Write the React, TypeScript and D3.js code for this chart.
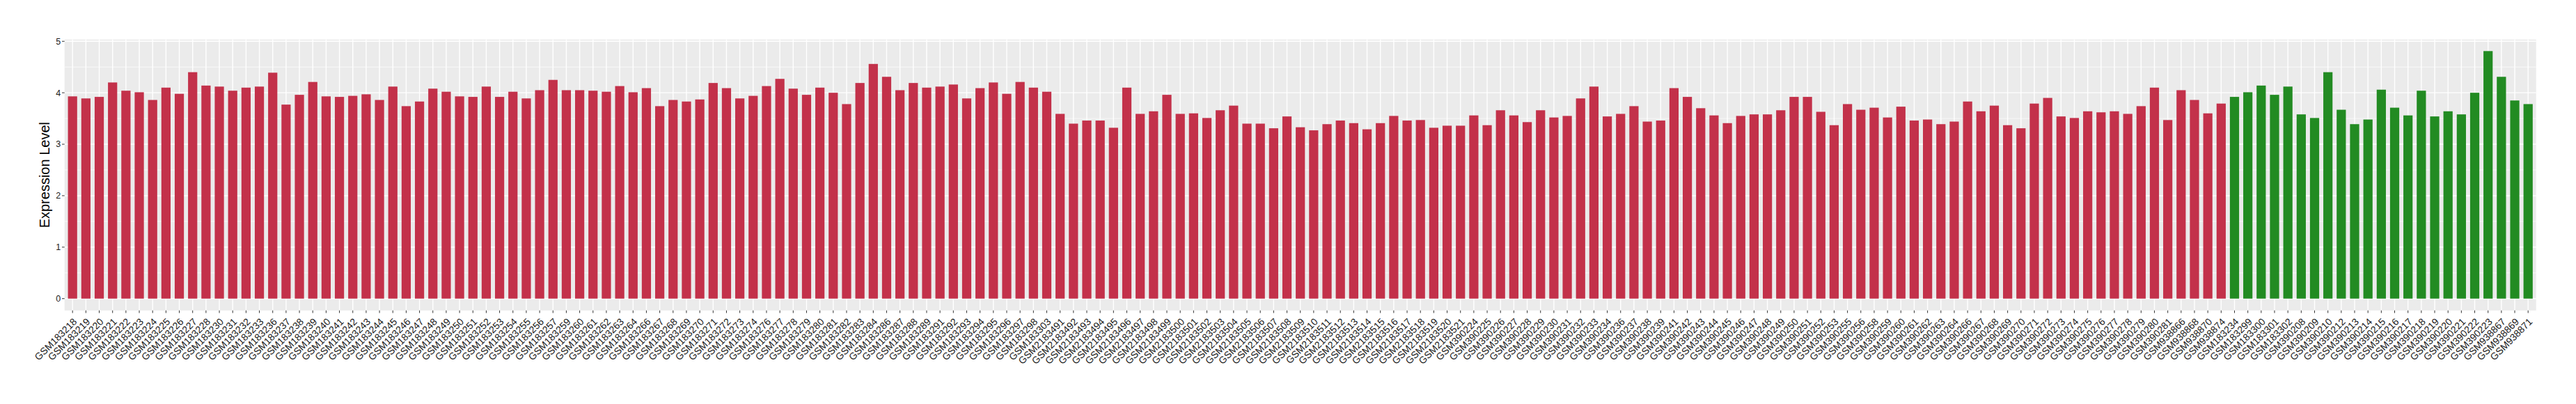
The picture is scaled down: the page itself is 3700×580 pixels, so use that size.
import React from "react";
import * as d3 from "d3";

// ---- data ----
const caseSamples = [
  "GSM183218","GSM183219","GSM183220","GSM183221","GSM183222","GSM183223","GSM183224","GSM183225","GSM183226","GSM183227","GSM183228",
  "GSM183230","GSM183231","GSM183232","GSM183233","GSM183236","GSM183237","GSM183238","GSM183239","GSM183240","GSM183241","GSM183242",
  "GSM183243","GSM183244","GSM183245","GSM183246","GSM183247","GSM183248","GSM183249","GSM183250","GSM183251","GSM183252","GSM183253",
  "GSM183254","GSM183255","GSM183256","GSM183257","GSM183259","GSM183260","GSM183261","GSM183262","GSM183263","GSM183264","GSM183266",
  "GSM183267","GSM183268","GSM183269","GSM183270","GSM183271","GSM183272","GSM183273","GSM183274","GSM183276","GSM183277","GSM183278",
  "GSM183279","GSM183280","GSM183281","GSM183282","GSM183283","GSM183284","GSM183286","GSM183287","GSM183288","GSM183289","GSM183291",
  "GSM183292","GSM183293","GSM183294","GSM183295","GSM183296","GSM183297","GSM183298","GSM183303",
  "GSM2183491","GSM2183492","GSM2183493","GSM2183494","GSM2183495","GSM2183496","GSM2183497","GSM2183498","GSM2183499","GSM2183500",
  "GSM2183501","GSM2183502","GSM2183503","GSM2183504","GSM2183505","GSM2183506","GSM2183507","GSM2183508","GSM2183509","GSM2183510",
  "GSM2183511","GSM2183512","GSM2183513","GSM2183514","GSM2183515","GSM2183516","GSM2183517","GSM2183518","GSM2183519","GSM2183520",
  "GSM2183521",
  "GSM390224","GSM390225","GSM390226","GSM390227","GSM390228","GSM390229","GSM390230","GSM390231","GSM390232","GSM390233","GSM390234",
  "GSM390236","GSM390237","GSM390238","GSM390239","GSM390241","GSM390242","GSM390243","GSM390244","GSM390245","GSM390246","GSM390247",
  "GSM390248","GSM390249","GSM390250","GSM390251","GSM390252","GSM390253","GSM390255","GSM390256","GSM390258","GSM390259","GSM390260",
  "GSM390261","GSM390262","GSM390263","GSM390264","GSM390266","GSM390267","GSM390268","GSM390269","GSM390270","GSM390271","GSM390272",
  "GSM390273","GSM390274","GSM390275","GSM390276","GSM390277","GSM390278","GSM390279","GSM390280","GSM390281",
  "GSM938866","GSM938868","GSM938870","GSM938874",
];
const caseValues = [
  3.93,3.89,3.92,4.20,4.04,4.01,3.86,4.10,3.98,4.40,4.14,
  4.12,4.04,4.10,4.12,4.39,3.77,3.96,4.21,3.93,3.92,3.94,
  3.97,3.86,4.12,3.74,3.83,4.08,4.02,3.93,3.92,4.12,3.92,
  4.02,3.89,4.05,4.25,4.05,4.05,4.04,4.02,4.13,4.01,4.09,
  3.74,3.86,3.83,3.87,4.19,4.09,3.89,3.94,4.13,4.27,4.08,
  3.96,4.10,4.00,3.78,4.19,4.56,4.31,4.05,4.19,4.10,4.12,
  4.16,3.89,4.09,4.20,3.98,4.21,4.10,4.02,
  3.59,3.40,3.46,3.46,3.32,4.10,3.59,3.64,3.96,3.59,
  3.60,3.51,3.66,3.75,3.40,3.40,3.31,3.54,3.33,3.27,
  3.39,3.46,3.41,3.29,3.41,3.55,3.46,3.47,3.32,3.36,
  3.36,
  3.56,3.37,3.66,3.56,3.43,3.66,3.52,3.55,3.89,4.12,3.54,
  3.59,3.74,3.44,3.46,4.09,3.92,3.70,3.56,3.41,3.55,3.58,
  3.58,3.66,3.92,3.92,3.63,3.37,3.78,3.67,3.71,3.52,3.73,
  3.46,3.48,3.39,3.44,3.83,3.64,3.75,3.37,3.31,3.79,3.90,
  3.54,3.51,3.64,3.62,3.64,3.59,3.74,4.10,3.47,
  4.05,3.86,3.60,3.79,
];
const controlSamples = [
  "GSM183234","GSM183299","GSM183300","GSM183301","GSM183302",
  "GSM390208","GSM390209","GSM390210","GSM390212","GSM390213","GSM390214","GSM390215","GSM390216","GSM390217",
  "GSM390218","GSM390219","GSM390220","GSM390221","GSM390222","GSM390223",
  "GSM938867","GSM938869","GSM938871",
];
const controlValues = [
  3.92,4.01,4.14,3.96,4.12,
  3.58,3.51,4.40,3.67,3.39,3.48,4.06,3.71,3.56,
  4.04,3.54,3.64,3.58,4.00,4.81,
  4.31,3.85,3.78,
];
const yTicks = [0, 1, 2, 3, 4, 5];
const yMinor = [0.5, 1.5, 2.5, 3.5, 4.5];
const groupColors = { case: "#C3314A", control: "#228B22" };
const yTitle = "Expression Level";

type Row = { sample: string; value: number; group: "case" | "control" };
const rows: Row[] = [
  ...caseSamples.map((s, i) => ({ sample: s, value: caseValues[i], group: "case" as const })),
  ...controlSamples.map((s, i) => ({ sample: s, value: controlValues[i], group: "control" as const })),
];

export default function App() {
  const W = 3700, H = 580;
  const left = 92.7, right = 3642.7, top = 56.7, bottom = 445.7;
  const x = d3.scalePoint<string>().domain(rows.map(r => r.sample)).range([left, right]).padding(0.6);
  const step = x.step();
  const bw = step * 0.69;
  const y = d3.scaleLinear().domain([-0.23, 5.035]).range([bottom, top]);
  const font = "'Liberation Sans', Arial, Helvetica, sans-serif";

  return (
    <svg width={W} height={H} style={{ position: "absolute", left: 0, top: 0, background: "#fff" }} fontFamily={font}>
      <rect x={left} y={top} width={right - left} height={bottom - top} fill="#EBEBEB" />
      {yMinor.map(v => (
        <line key={"mn" + v} x1={left} x2={right} y1={y(v)} y2={y(v)} stroke="#fff" strokeWidth={0.7} />
      ))}
      {yTicks.map(v => (
        <line key={"mj" + v} x1={left} x2={right} y1={y(v)} y2={y(v)} stroke="#fff" strokeWidth={1.4} />
      ))}
      {rows.map(r => (
        <line key={"vx" + r.sample} x1={x(r.sample)} x2={x(r.sample)} y1={top} y2={bottom} stroke="#fff" strokeWidth={1.4} />
      ))}
      {rows.map(r => (
        <rect key={"b" + r.sample} x={(x(r.sample) as number) - bw / 2} y={y(r.value)} width={bw}
          height={y(0) - y(r.value)} fill={groupColors[r.group]} />
      ))}
      {yTicks.map(v => (
        <g key={"yt" + v}>
          <line x1={left - 3.7} x2={left} y1={y(v)} y2={y(v)} stroke="#333" strokeWidth={1} />
          <text x={left - 5.5} y={y(v)} dy="0.35em" textAnchor="end" fontSize={12.5} fill="#1a1a1a">{v}</text>
        </g>
      ))}
      {rows.map(r => {
        const cx = x(r.sample) as number;
        return (
          <g key={"xt" + r.sample}>
            <line x1={cx} x2={cx} y1={bottom} y2={bottom + 3.7} stroke="#333" strokeWidth={1} />
            <text transform={`translate(${cx + 7},${bottom + 17}) rotate(-45)`} textAnchor="end" fontSize={14} fill="#1a1a1a">
              {r.sample}
            </text>
          </g>
        );
      })}
      <text transform={`translate(70.5,${(top + bottom) / 2}) rotate(-90)`} textAnchor="middle" fontSize={20} fill="#000">
        {yTitle}
      </text>
    </svg>
  );
}
